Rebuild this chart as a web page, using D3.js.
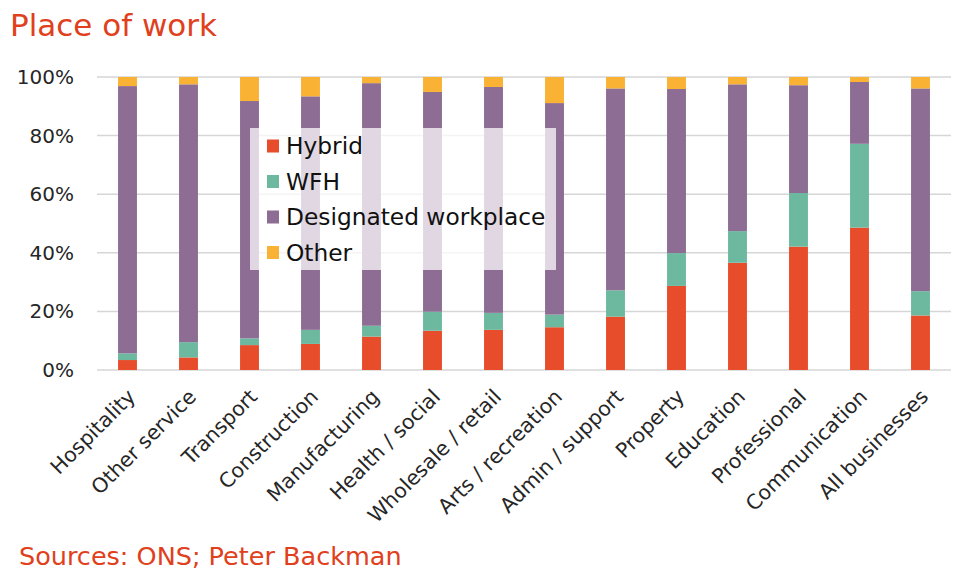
<!DOCTYPE html>
<html lang="en">
<head>
    <meta charset="UTF-8">
    <title>Place of work</title>
    <style>
        body{ margin:0; background:#fff;}
        text{ font-family:"DejaVu Sans", sans-serif; }
    </style>
</head>
<body>
<script src="https://d3js.org/d3.v7.min.js"></script>
<script>

var categories = ["Hospitality", "Other service", "Transport", "Construction", "Manufacturing",
    "Health / social", "Wholesale / retail", "Arts / recreation", "Admin / support", "Property",
    "Education", "Professional", "Communication", "All businesses"];

// shares in %
var hybrid     = [3.4, 4.3, 8.5, 8.9, 11.4, 13.4, 13.7, 14.6, 18.2, 28.7, 36.6, 42.1, 48.6, 18.6];
var wfh        = [2.3, 5.2, 2.3, 4.8, 3.7, 6.5, 5.8, 4.3, 9.0, 11.2, 10.8, 18.3, 28.6, 8.3];
var designated = [91.2, 88.0, 81.0, 79.7, 82.8, 75.0, 77.1, 72.2, 68.9, 56.0, 50.1, 36.8, 21.1, 69.2];
var other      = [3.1, 2.5, 8.2, 6.6, 2.1, 5.1, 3.4, 8.9, 3.9, 4.1, 2.5, 2.8, 1.7, 3.9];

var seriesNames = ["Hybrid", "WFH", "Designated workplace", "Other"];
var yTicks = [0, 20, 40, 60, 80, 100];

var colors = ["#e84d2b", "#6cb9a0", "#8e6d94", "#f9b233"];

var W = 980, H = 573;
var margin = { left:97, right:29, top:77, bottom:203 };

var svg = d3.select("body").append("svg")
    .attr("width", W)
    .attr("height", H);

// title + source
svg.append("text").attr("x", 10).attr("y", 36)
    .style("font-size", "31px").attr("fill", "#e0401c").text("Place of work");
svg.append("text").attr("x", 19).attr("y", 565)
    .style("font-size", "25.5px").attr("fill", "#e0401c").text("Sources: ONS; Peter Backman");

var x = d3.scaleBand()
    .domain(categories)
    .range([margin.left, W - margin.right])
    .paddingInner(0.69)
    .paddingOuter(0.345);

var y = d3.scaleLinear()
    .domain([0, 100])
    .range([H - margin.bottom, margin.top]);

// gridlines
svg.append("g").selectAll("line")
    .data(yTicks)
    .enter().append("line")
    .attr("x1", margin.left).attr("x2", W - margin.right)
    .attr("y1", function(d){ return y(d); })
    .attr("y2", function(d){ return y(d); })
    .attr("stroke", "#d6d6d6")
    .attr("stroke-width", 1.5);

// y axis labels
var yAxis = d3.axisLeft(y).tickValues(yTicks)
    .tickFormat(function(d){ return d + "%"; })
    .tickSize(0).tickPadding(23);
var gy = svg.append("g").attr("transform", "translate(" + margin.left + ",0)").call(yAxis);
gy.select(".domain").remove();
gy.selectAll("text").style("font-size", "20px").attr("fill", "#262626")
    .style("font-family", "DejaVu Sans, sans-serif");

// stacked bars
var rows = categories.map(function(c, i){
    return { cat:c, Hybrid:hybrid[i], WFH:wfh[i], "Designated workplace":designated[i], Other:other[i] };
});
var stack = d3.stack().keys(seriesNames)(rows);

svg.append("g").selectAll("g")
    .data(stack)
    .enter().append("g")
    .attr("fill", function(d, i){ return colors[i]; })
    .selectAll("rect")
    .data(function(d){ return d; })
    .enter().append("rect")
    .attr("x", function(d){ return x(d.data.cat); })
    .attr("width", x.bandwidth())
    .attr("y", function(d){ return y(d[1]); })
    .attr("height", function(d){ return y(d[0]) - y(d[1]); });

// x axis labels
var xAxis = d3.axisBottom(x).tickSize(0).tickPadding(0);
var gx = svg.append("g").attr("transform", "translate(0," + y(0) + ")").call(xAxis);
gx.select(".domain").remove();
gx.selectAll("text")
    .style("font-size", "20.5px").attr("fill", "#262626")
    .style("font-family", "DejaVu Sans, sans-serif")
    .attr("text-anchor", "end")
    .attr("dy", "0")
    .attr("y", 0)
    .attr("transform", "translate(9,28) rotate(-45)");

// legend
var lg = svg.append("g").attr("transform", "translate(250,128)");
lg.append("rect").attr("width", 306).attr("height", 142)
    .attr("fill", "#fff").attr("fill-opacity", 0.73);

var items = lg.selectAll(".item")
    .data(seriesNames)
    .enter().append("g")
    .attr("transform", function(d, i){ return "translate(17," + (18 + i * 35.5) + ")"; });
items.append("rect").attr("y", -6.5).attr("width", 12).attr("height", 13)
    .attr("fill", function(d, i){ return colors[i]; });
items.append("text").attr("x", 19).attr("dy", "0.36em")
    .style("font-size", "23.3px").attr("fill", "#111")
    .text(function(d){ return d; });

</script>
</body>
</html>
